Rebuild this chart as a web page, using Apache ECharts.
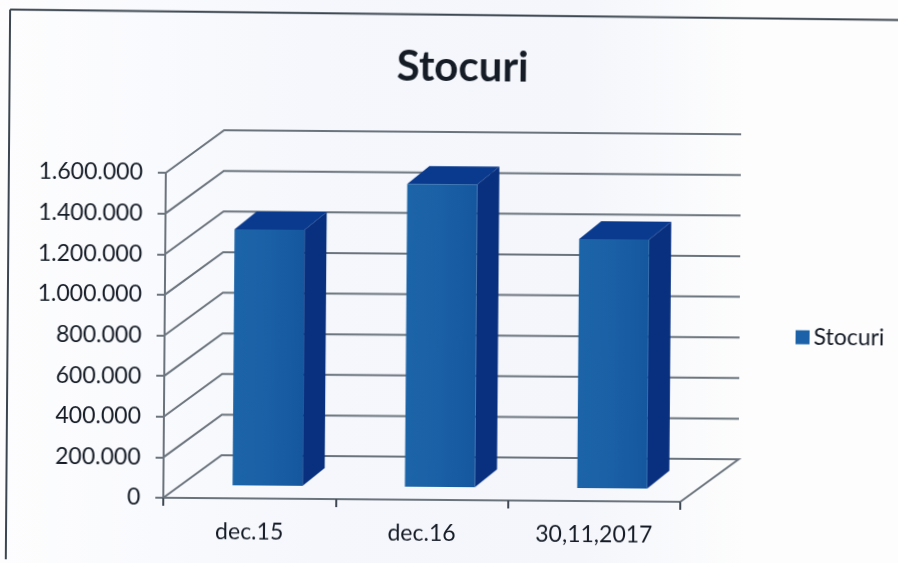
<!DOCTYPE html>
<html>
<head>
<meta charset="utf-8">
<title>Stocuri</title>
<script src="https://cdn.jsdelivr.net/npm/echarts@6/dist/echarts.min.js"></script>
<style>
  html, body { margin: 0; height: 100%; overflow: hidden; }
  body { background: linear-gradient(90deg, #fdfdfe 0%, #f5f7fc 35%, #f4f6fb 65%, #fdfdfd 83%, #fdfdfd 100%); }
  /* the source is a scanned page, slightly turned clockwise */
  #chart { width: 898px; height: 563px; transform: rotate(0.45deg); transform-origin: 449px 281px; }
</style>
</head>
<body>
<div id="chart"></div>
<script>
const categories = ['dec.15', 'dec.16', '30,11,2017']
const stocuri = [1260000, 1490000, 1226000]
const gridValues = [0, 200000, 400000, 600000, 800000, 1000000, 1200000, 1400000, 1600000]

const wallDepth = [58, -43]
const barOffset = [18, -13]
const barDepth = [22, -18]
const barWidth = 70
const lineColor = '#6b747d'
const textColor = '#151c26'

const chart = echarts.init(document.getElementById('chart'))

function renderWall (params, api) {
  const value = api.value(0)
  const left = api.coord([0, value])
  const bandWidth = api.size([1, 0])[0]
  left[0] -= bandWidth / 2
  const right = left[0] + bandWidth * categories.length
  const points = [
    left,
    [left[0] + wallDepth[0], left[1] + wallDepth[1]],
    [right + wallDepth[0], left[1] + wallDepth[1]]
  ]
  if (value === 0) {
    points.push([right, left[1]])
  }
  return {
    type: 'polyline',
    shape: { points },
    style: { fill: 'none', stroke: lineColor, lineWidth: 2 }
  }
}

function renderBar (params, api) {
  const index = api.value(0)
  const top = api.coord([index, api.value(1)])
  const base = api.coord([index, 0])
  const x = top[0] - barWidth / 2 + barOffset[0]
  const y = top[1] + barOffset[1]
  const w = barWidth
  const h = base[1] - top[1]
  const [dx, dy] = barDepth
  return {
    type: 'group',
    children: [
      {
        type: 'polygon',
        shape: { points: [[x, y], [x + w, y], [x + w + dx, y + dy], [x + dx, y + dy]] },
        style: { fill: '#0a3a8e' }
      },
      {
        type: 'polygon',
        shape: { points: [[x + w, y], [x + w + dx, y + dy], [x + w + dx, y + h + dy], [x + w, y + h]] },
        style: { fill: '#08307f' }
      },
      {
        type: 'rect',
        shape: { x, y, width: w, height: h },
        style: {
          fill: new echarts.graphic.LinearGradient(0, 0, 1, 0, [
            { offset: 0, color: '#1c64a8' },
            { offset: 0.5, color: '#1a60a6' },
            { offset: 1, color: '#15579f' }
          ])
        }
      }
    ]
  }
}

chart.setOption({
  animation: false,
  backgroundColor: 'transparent',
  textStyle: { fontFamily: 'Lato' },
  title: {
    text: 'Stocuri',
    left: 456,
    top: 41,
    textAlign: 'center',
    textStyle: { fontFamily: 'Lato', fontSize: 42, fontWeight: 'bold', color: textColor }
  },
  legend: {
    data: ['Stocuri'],
    left: 791,
    top: 318,
    icon: 'rect',
    itemWidth: 14,
    itemHeight: 14,
    itemGap: 8,
    textStyle: { fontFamily: 'Lato', fontSize: 23, color: textColor, padding: [0, 0, 0, -1] }
  },
  grid: { left: 165, top: 175, width: 517, height: 325 },
  xAxis: {
    type: 'category',
    data: categories,
    axisLine: { lineStyle: { color: lineColor, width: 2 } },
    axisTick: { show: true, length: 8, lineStyle: { color: '#3f4852', width: 2 } },
    axisLabel: { fontFamily: 'Lato', fontSize: 23, color: textColor, margin: 22 }
  },
  yAxis: {
    type: 'value',
    min: 0,
    max: 1600000,
    interval: 200000,
    splitLine: { show: false },
    axisLine: { show: true, lineStyle: { color: lineColor, width: 2 } },
    axisTick: { show: true, length: 8, lineStyle: { color: lineColor, width: 2 } },
    axisLabel: {
      fontFamily: 'Lato',
      fontSize: 23,
      color: textColor,
      margin: 23,
      formatter: value => String(value).replace(/\B(?=(\d{3})+$)/g, '.')
    }
  },
  series: [
    {
      name: 'Pereti',
      type: 'custom',
      clip: false,
      silent: true,
      z: 1,
      renderItem: renderWall,
      encode: { y: 0 },
      data: gridValues.map(v => [v])
    },
    {
      name: 'Stocuri',
      type: 'custom',
      clip: false,
      z: 3,
      itemStyle: { color: '#1b62a8' },
      renderItem: renderBar,
      encode: { x: 0, y: 1 },
      data: stocuri.map((v, i) => [i, v])
    }
  ],
  graphic: [
    { type: 'line', shape: { x1: 8, y1: 13, x2: 905, y2: 16.5 }, style: { stroke: '#3c4650', lineWidth: 2 } },
    { type: 'line', shape: { x1: 8, y1: 13, x2: 8, y2: 575 }, style: { stroke: '#3c4650', lineWidth: 2 } }
  ]
})
</script>
</body>
</html>
